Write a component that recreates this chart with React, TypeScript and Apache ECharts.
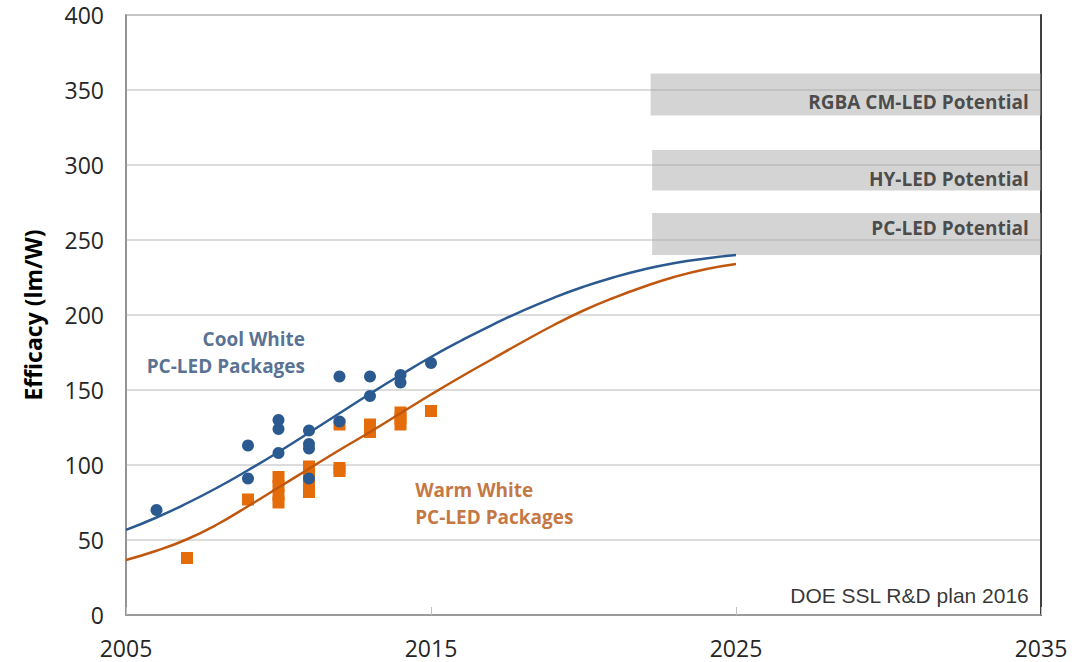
import React, { useEffect, useRef } from "react";
import * as echarts from "echarts";

const X0 = 2005;
const xMin = 2005;
const xMax = 2035;
const yMax = 400;

const curveYears = [2005, 2006, 2007, 2008, 2009, 2010, 2011, 2012, 2013, 2014, 2015, 2016, 2017, 2018, 2019, 2020, 2021, 2022, 2023, 2024, 2025];
const coolCurve = [56.7, 65, 74.5, 85, 96.5, 108.7, 121.5, 134.5, 147.5, 160, 172, 183, 193.3, 202.8, 211.3, 218.8, 225.2, 230.5, 234.7, 237.7, 240];
const warmCurve = [36.7, 42.8, 50.5, 60.5, 72.5, 85, 97.5, 110, 122, 134.5, 147, 159, 170.5, 182, 193, 203, 211.5, 219, 225.5, 230.5, 234];

const coolX = [2006, 2009, 2009, 2010, 2010, 2010, 2011, 2011, 2011, 2011, 2012, 2012, 2013, 2013, 2014, 2014, 2015];
const coolY = [70, 113, 91, 130, 124, 108, 123, 114, 111, 91, 159, 129, 159, 146, 160, 155, 168];

const warmX = [2007, 2009, 2010, 2010, 2010, 2010, 2011, 2011, 2011, 2011, 2012, 2012, 2012, 2013, 2013, 2014, 2014, 2014, 2015];
const warmY = [38, 77, 75, 80, 86, 92, 82, 88, 94, 99, 127, 96, 98, 122, 127, 127, 131, 135, 136];

const potentialNames = ["RGBA CM-LED Potential", "HY-LED Potential", "PC-LED Potential"];
const potentialLow = [333, 283, 240];
const potentialHigh = [361, 310, 268];
const potentialStart = [2022.2, 2022.25, 2022.25];
const potentialEnd = 2035;
const potentialLabelY = [342, 291, 258];
const potentialLabelX = 2034.6;

const BLUE = "#2B5A90";
const BLUE_TEXT = "#2C4B75";
const ORANGE_LINE = "#C0570F";
const ORANGE_PT = "#E46C0A";
const ORANGE_TEXT = "#B5530E";

export default function App() {
  const ref = useRef<HTMLDivElement>(null);
  useEffect(() => {
    if (!ref.current) return;
    const chart = echarts.init(ref.current, undefined, { renderer: "svg" });
    const off = (y: number) => y - X0;
    const option: any = {
      animation: false,
      backgroundColor: "#ffffff",
      grid: {
        left: 126,
        right: 41,
        top: 15,
        bottom: 47,
        show: true,
        borderColor: "#8c8c8c",
        borderWidth: 1.5,
      },
      xAxis: {
        type: "value",
        min: 0,
        max: xMax - xMin,
        interval: 10,
        axisLine: { show: true, lineStyle: { color: "#8c8c8c", width: 1.5 } },
        axisTick: { show: true, inside: true, length: 8, lineStyle: { color: "#bfbfbf" } },
        splitLine: { show: false },
        axisLabel: {
          formatter: (v: number) => String(v + X0),
          fontFamily: "Open Sans",
          fontSize: 23,
          color: "#262626",
          margin: 21,
        },
      },
      yAxis: [
        {
          type: "value",
          min: 0,
          max: yMax,
          interval: 50,
          name: "Efficacy (lm/W)",
          nameLocation: "middle",
          nameGap: 82,
          nameTextStyle: { fontFamily: "Open Sans", fontWeight: "bold", fontSize: 23, color: "#000" },
          axisLine: { show: true, lineStyle: { color: "#8c8c8c", width: 1.5 } },
          axisTick: { show: false },
          splitLine: { show: true, lineStyle: { color: "#d0d0d0", width: 1.5 } },
          axisLabel: { fontFamily: "Open Sans", fontSize: 23, color: "#262626", margin: 22 },
        },
        {
          type: "value",
          min: 0,
          max: yMax,
          interval: 50,
          position: "right",
          axisLine: { show: true, lineStyle: { color: "#404040", width: 2 } },
          axisTick: { show: false },
          axisLabel: { show: false },
          splitLine: { show: false },
        },
      ],
      series: [
        {
          type: "scatter",
          name: "potential",
          data: [],
          markArea: {
            silent: true,
            itemStyle: { color: "rgba(160,160,160,0.45)" },
            data: potentialNames.map((n, i) => [
              { xAxis: off(potentialStart[i]), yAxis: potentialLow[i] },
              { xAxis: off(potentialEnd), yAxis: potentialHigh[i] },
            ]),
          },
        },
        {
          type: "scatter",
          name: "potentialLabels",
          symbolSize: 0,
          silent: true,
          data: potentialNames.map((n, i) => ({ value: [off(potentialLabelX), potentialLabelY[i]], name: n })),
          label: {
            show: true,
            position: "left",
            distance: 0,
            formatter: (p: any) => p.name,
            fontFamily: "Open Sans",
            fontWeight: "bold",
            fontSize: 19,
            color: "#262626",
          },
        },
        {
          type: "scatter",
          name: "Warm White",
          symbol: "rect",
          symbolSize: 12,
          itemStyle: { color: ORANGE_PT, opacity: 1 },
          data: warmX.map((x, i) => [off(x), warmY[i]]),
        },
        {
          type: "scatter",
          name: "Cool White",
          symbol: "circle",
          symbolSize: 12,
          itemStyle: { color: BLUE, opacity: 1 },
          data: coolX.map((x, i) => [off(x), coolY[i]]),
        },
        {
          type: "line",
          name: "Cool curve",
          smooth: 0.5,
          showSymbol: false,
          lineStyle: { color: BLUE, width: 2.5 },
          data: curveYears.map((x, i) => [off(x), coolCurve[i]]),
        },
        {
          type: "line",
          name: "Warm curve",
          smooth: 0.5,
          showSymbol: false,
          lineStyle: { color: ORANGE_LINE, width: 2.5 },
          data: curveYears.map((x, i) => [off(x), warmCurve[i]]),
        },
        {
          type: "scatter",
          name: "annotations",
          symbolSize: 0,
          silent: true,
          data: [
            {
              value: [off(2010.87), 174.7],
              label: { position: "left", color: BLUE_TEXT, formatter: "Cool White\nPC-LED Packages" },
            },
            {
              value: [off(2014.48), 74.3],
              label: { position: "right", color: ORANGE_TEXT, formatter: "Warm White\nPC-LED Packages" },
            },
            {
              value: [off(2034.6), 13.3],
              label: {
                position: "left",
                color: "#000",
                fontWeight: "normal",
                fontFamily: "Liberation Sans",
                fontSize: 21,
                formatter: "DOE SSL R&D plan 2016",
              },
            },
          ],
          label: {
            show: true,
            distance: 0,
            fontFamily: "Open Sans",
            fontWeight: "bold",
            fontSize: 19,
            lineHeight: 27,
          },
        },
      ],
    };
    chart.setOption(option);
    return () => chart.dispose();
  }, []);
  return <div ref={ref} style={{ position: "absolute", left: 0, top: 0, width: 1082, height: 662 }} />;
}
